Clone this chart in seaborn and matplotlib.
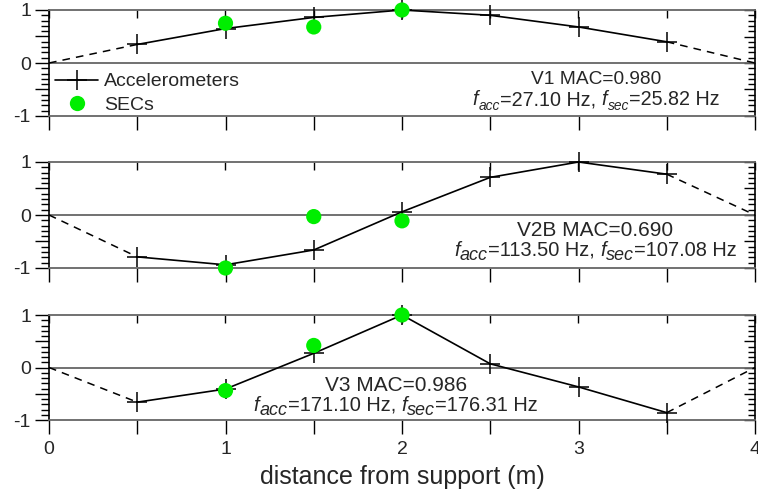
import numpy as np
import pandas as pd
import matplotlib
matplotlib.use("Agg")
import matplotlib.pyplot as plt
from matplotlib.ticker import MultipleLocator, FixedLocator
from matplotlib.lines import Line2D
from matplotlib.transforms import offset_copy
import seaborn as sns

# ---------------- data ----------------
acc_x = [0.5, 1.0, 1.5, 2.0, 2.5, 3.0, 3.5]
sec_x = [1.0, 1.5, 2.0]
support_x = [0.0, 4.0]
support_y = [0.0, 0.0]

v1_acc = [0.35, 0.65, 0.86, 1.00, 0.90, 0.68, 0.40]
v1_sec = [0.75, 0.68, 1.00]
v2_acc = [-0.79, -0.94, -0.66, 0.06, 0.71, 1.00, 0.77]
v2_sec = [-1.00, -0.03, -0.11]
v3_acc = [-0.66, -0.41, 0.27, 1.00, 0.07, -0.37, -0.86]
v3_sec = [-0.44, 0.42, 1.00]

mode_names = ["V1", "V2B", "V3"]
mac_values = ["0.980", "0.690", "0.986"]
f_acc = ["27.10", "113.50", "171.10"]
f_sec = ["25.82", "107.08", "176.31"]

x_tick_labels = ["0", "", "1", "", "2", "", "3", "", "4"]
y_tick_labels = ["-1", "", "0", "", "1"]

# ---------------- style ----------------
sns.set_theme(style="white")
plt.rcParams["font.family"] = ["Liberation Sans", "DejaVu Sans"]
plt.rcParams["axes.unicode_minus"] = False

GREEN = "#00ee00"
GRAY = "#666666"

fig = plt.figure(figsize=(7.58, 4.94), dpi=100)
renderer = fig.canvas.get_renderer()
left, width = 49 / 758, (755 - 49) / 758
panels_px = [(10, 116), (162, 268), (315, 420)]

acc_all = [v1_acc, v2_acc, v3_acc]
sec_all = [v1_sec, v2_sec, v3_sec]
# (x centre, MAC baseline, f baseline, MAC size, f size, subscript scale)
text_spec = [(3.10, -0.40, -0.80, 13.8, 14.2, 0.70),
             (3.096, -0.40, -0.77, 15.0, 14.4, 0.90),
             (1.966, -0.44, -0.82, 15.0, 14.4, 0.90)]


def rich_line(ax, x, y, pieces, fs):
    """Draw consecutive text pieces (text, italic, scale, dy_pts, gap_pts) centred at x."""
    items = []
    total = 0.0
    for s, italic, scale, dy, gap in pieces:
        t = ax.text(x, y, s, fontsize=fs * scale,
                    style="italic" if italic else "normal",
                    ha="left", va="baseline")
        w = t.get_window_extent(renderer).width * 72 / fig.dpi
        items.append((t, dy, w, gap))
        total += w + gap
    cur = -total / 2
    for t, dy, w, gap in items:
        t.set_transform(offset_copy(ax.transData, fig=fig, x=cur, y=dy,
                                    units="points"))
        cur += w + gap


axes = []
for i, (top_px, bot_px) in enumerate(panels_px):
    b = 1 - bot_px / 494
    h = (bot_px - top_px) / 494
    ax = fig.add_axes([left, b, width, h])
    axes.append(ax)
    acc = acc_all[i]
    sec = sec_all[i]

    ax.axhline(0, color=GRAY, lw=1.3, zorder=1)

    # dashed extrapolation to the supports
    sns.lineplot(x=[support_x[0], acc_x[0]], y=[support_y[0], acc[0]], ax=ax,
                 color="black", lw=1.1, linestyle=(0, (5, 4)), zorder=2)
    sns.lineplot(x=[acc_x[-1], support_x[1]], y=[acc[-1], support_y[1]], ax=ax,
                 color="black", lw=1.1, linestyle=(0, (5, 4)), zorder=2)

    sns.lineplot(x=acc_x, y=acc, ax=ax, color="black", lw=1.2, marker="+",
                 markersize=14, markeredgewidth=1.1, markeredgecolor="black",
                 zorder=3, clip_on=False)
    sns.scatterplot(x=sec_x, y=sec, ax=ax, color=GREEN, s=120, edgecolor="none",
                    zorder=4, clip_on=False)

    ax.set_xlim(0, 4)
    ax.set_ylim(-1, 1)

    for s in ["top", "bottom"]:
        ax.spines[s].set_color(GRAY)
        ax.spines[s].set_linewidth(1.3)
    for s in ["left", "right"]:
        ax.spines[s].set_color("black")
        ax.spines[s].set_linewidth(1.2)

    # y ticks (left, pointing outward)
    ax.yaxis.set_major_locator(FixedLocator([-1, -0.5, 0, 0.5, 1]))
    ax.set_yticklabels(y_tick_labels)
    ax.yaxis.set_minor_locator(MultipleLocator(0.1))
    ax.tick_params(axis="y", which="major", direction="out", length=10, width=1,
                   color="black", labelsize=14, pad=3, left=True, right=False)
    ax.tick_params(axis="y", which="minor", direction="out", length=6, width=1,
                   color="black", left=True, right=False)

    # right ticks pointing inward
    sy = ax.secondary_yaxis("right")
    sy.yaxis.set_major_locator(FixedLocator([-1, -0.5, 0, 0.5, 1]))
    sy.yaxis.set_minor_locator(MultipleLocator(0.1))
    sy.tick_params(axis="y", which="major", direction="in", length=8, width=1,
                   color="black", labelright=False)
    sy.tick_params(axis="y", which="minor", direction="in", length=5, width=1,
                   color="black")
    sy.spines["right"].set_visible(False)

    # x ticks: bottom outward, top inward
    ax.xaxis.set_major_locator(FixedLocator(np.arange(0, 4.01, 0.5)))
    ax.tick_params(axis="x", which="major", direction="out", length=10, width=1,
                   color="black", labelsize=14, pad=5, bottom=True, top=False)
    if i == 2:
        ax.set_xticklabels(x_tick_labels)
        ax.set_xlabel("distance from support (m)", fontsize=18, labelpad=5)
    else:
        ax.set_xticklabels([])
    sx = ax.secondary_xaxis("top")
    sx.xaxis.set_major_locator(FixedLocator(np.arange(0, 4.01, 0.5)))
    sx.tick_params(axis="x", which="major", direction="in", length=6, width=1,
                   color="black", labeltop=False)
    sx.spines["top"].set_visible(False)
    ax.set_ylabel("")

    tx, ty1, ty2, fs1, fs2, sub = text_spec[i]
    ax.text(tx, ty1, f"{mode_names[i]} MAC={mac_values[i]}", ha="center",
            va="baseline", fontsize=fs1)
    sub_dy = -0.22 * fs2
    rich_line(ax, tx, ty2, [
        ("f", True, 1.0, 0, 0.3),
        ("acc", True, sub, sub_dy, 0),
        (f"={f_acc[i]} Hz,", False, 1.0, 0, 0.278 * fs2),
        ("f", True, 1.0, 0, 0.3),
        ("sec", True, sub, sub_dy, 0),
        (f"={f_sec[i]} Hz", False, 1.0, 0, 0),
    ], fs2)

# legend in first panel
h_acc = Line2D([], [], color="black", lw=1.2, marker="+", markersize=14,
               markeredgewidth=1.1)
h_sec = Line2D([], [], color=GREEN, lw=0, marker="o", markersize=11,
               markeredgewidth=0)
axes[0].legend([h_acc, h_sec], ["Accelerometers", "SECs"], loc="upper left",
               bbox_to_anchor=(-0.005, 0.5), frameon=False, fontsize=14,
               handlelength=2.2, handletextpad=0.3, labelspacing=0.3,
               borderaxespad=0.1)

fig.savefig("out.png", dpi=100)
